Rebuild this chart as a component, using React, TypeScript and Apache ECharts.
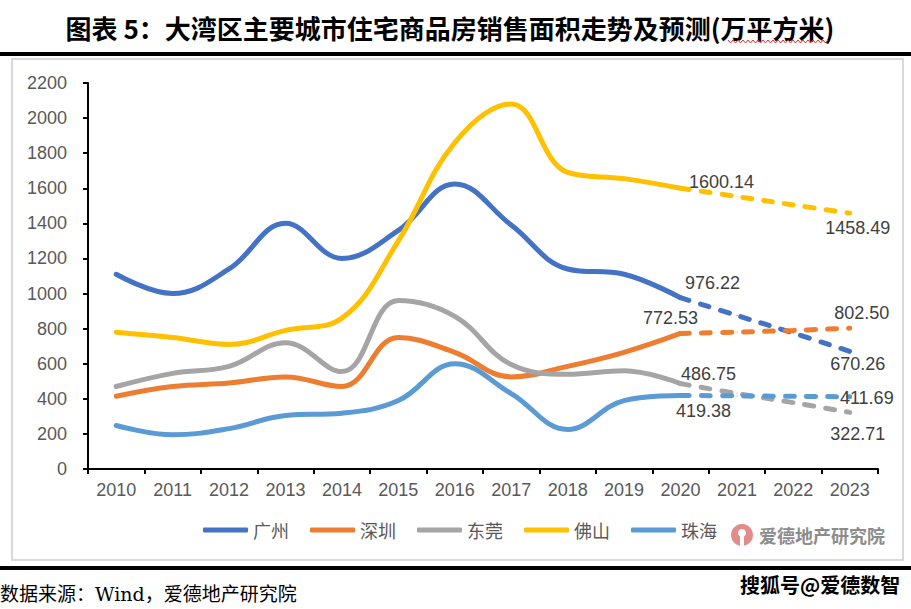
import React, { useEffect, useRef } from 'react';
import * as echarts from 'echarts';

const years = ['2010', '2011', '2012', '2013', '2014', '2015', '2016', '2017', '2018', '2019', '2020', '2021', '2022', '2023'];
const cities = ['广州', '深圳', '东莞', '佛山', '珠海'];

// Historical 2010-2020
const guangzhou = [1110, 1000, 1140, 1400, 1200, 1360, 1625, 1390, 1140, 1110, 976.22];
const shenzhen = [415, 470, 490, 525, 470, 750, 665, 525, 585, 665, 772.53];
const dongguan = [470, 545, 585, 720, 555, 960, 870, 595, 540, 560, 486.75];
const foshan = [780, 750, 710, 790, 860, 1300, 1860, 2080, 1690, 1655, 1600.14];
const zhuhai = [248, 195, 230, 305, 318, 390, 600, 430, 225, 390, 419.38];

// Forecast 2020-2023
const guangzhouForecast = [976.22, 875, 775, 670.26];
const shenzhenForecast = [772.53, 780, 790, 802.5];
const dongguanForecast = [486.75, 430, 378, 322.71];
const foshanForecast = [1600.14, 1553, 1505, 1458.49];
const zhuhaiForecast = [419.38, 417, 414, 411.69];

const colors = ['#4472C4', '#ED7D31', '#A5A5A5', '#FFC000', '#5B9BD5'];

export default function App() {
  const ref = useRef<HTMLDivElement>(null);

  useEffect(() => {
    const chart = echarts.init(ref.current!, null, { renderer: 'svg' });
    const hist = [guangzhou, shenzhen, dongguan, foshan, zhuhai];
    const fc = [guangzhouForecast, shenzhenForecast, dongguanForecast, foshanForecast, zhuhaiForecast];
    // label offsets [start(2020), end(2023)] relative to the point
    const offsets: number[][][] = [
      [[32, -15], [8, 13]],
      [[-10, -15], [12, -15]],
      [[28, -10], [8, 22]],
      [[41, -6], [8, 15]],
      [[23, 16], [17, 1]],
    ];
    const labelStyle = {
      fontSize: 18,
      color: '#404040',
      fontFamily: 'Liberation Sans, Arial, sans-serif',
      lineHeight: 18,
    };
    const series: any[] = [];
    cities.forEach((name, i) => {
      const solidData: (number | null)[] = [...hist[i]];
      while (solidData.length < years.length) solidData.push(null);
      series.push({
        name,
        type: 'line',
        data: solidData,
        smooth: 0.4,
        symbol: 'none',
        lineStyle: { color: colors[i], width: 5, cap: 'round' },
        itemStyle: { color: colors[i] },
        z: 3,
      });
      const startIdx = years.length - fc[i].length;
      const fcData: any[] = years.map((_, k) => {
        if (k < startIdx) return null;
        const v = fc[i][k - startIdx];
        if (k === startIdx || k === years.length - 1) {
          const off = k === startIdx ? offsets[i][0] : offsets[i][1];
          return {
            value: v,
            label: {
              show: true,
              position: 'inside',
              offset: off,
              formatter: v.toFixed(2),
              ...labelStyle,
            },
          };
        }
        return v;
      });
      series.push({
        name: name + '预测',
        type: 'line',
        data: fcData,
        smooth: 0.4,
        symbol: 'circle',
        symbolSize: 1,
        showSymbol: true,
        lineStyle: { color: colors[i], width: 5, type: [9, 12], cap: 'round' },
        itemStyle: { color: colors[i] },
        z: 4,
      });
    });

    const squiggle: number[][] = [];
    for (let x = 728, k = 0; x <= 830; x += 2.5, k++) {
      squiggle.push([x, k % 2 === 0 ? 40 : 43]);
    }

    chart.setOption({
      animation: false,
      backgroundColor: '#ffffff',
      color: colors,
      grid: { left: 88, right: 33, top: 83, bottom: 140, containLabel: false },
      xAxis: {
        type: 'category',
        data: years,
        boundaryGap: true,
        axisLine: { lineStyle: { color: '#000', width: 2 } },
        axisTick: { show: true, length: 5, lineStyle: { color: '#000', width: 2 } },
        axisLabel: {
          color: '#595959',
          fontSize: 18,
          margin: 12,
          fontFamily: 'Liberation Sans, Arial, sans-serif',
        },
        splitLine: { show: false },
      },
      yAxis: {
        type: 'value',
        min: 0,
        max: 2200,
        interval: 200,
        axisLine: { show: true, lineStyle: { color: '#000', width: 2 } },
        axisTick: { show: true, length: 5, lineStyle: { color: '#000', width: 2 } },
        axisLabel: {
          color: '#595959',
          fontSize: 18,
          margin: 21,
          fontFamily: 'Liberation Sans, Arial, sans-serif',
          formatter: (v: number) => String(v),
        },
        splitLine: { show: false },
      },
      legend: {
        data: cities.map((n) => ({ name: n, icon: 'roundRect' })),
        left: 198,
        top: 516,
        itemWidth: 45,
        itemHeight: 5,
        itemGap: 21,
        textStyle: {
          fontSize: 18,
          color: '#595959',
          fontFamily: 'Noto Sans CJK SC, sans-serif',
        },
      },
      graphic: [
        { type: 'rect', shape: { x: 0, y: 52, width: 911, height: 4 }, style: { fill: '#000' }, silent: true },
        { type: 'rect', shape: { x: 0, y: 566, width: 911, height: 4 }, style: { fill: '#000' }, silent: true },
        {
          type: 'rect',
          shape: { x: 12, y: 59, width: 891, height: 501 },
          style: { fill: 'none', stroke: '#D9D9D9', lineWidth: 2 },
          silent: true,
          z: -1,
        },
        {
          type: 'text',
          x: 450,
          y: 27,
          style: {
            text: '图表 5：大湾区主要城市住宅商品房销售面积走势及预测(万平方米)',
            fill: '#000',
            fontSize: 26,
            fontWeight: 'bold',
            fontFamily: 'Noto Sans CJK SC, serif',
            align: 'center',
            verticalAlign: 'middle',
          },
        },
        {
          type: 'polyline',
          shape: { points: squiggle },
          style: { stroke: '#E03030', lineWidth: 1, fill: 'none' },
          silent: true,
        },
        { type: 'circle', shape: { cx: 742, cy: 535, r: 11 }, style: { fill: '#E38B8B' }, silent: true },
        { type: 'circle', shape: { cx: 742, cy: 533, r: 4 }, style: { fill: '#fff' }, silent: true },
        { type: 'rect', shape: { x: 740, y: 535, width: 4, height: 12 }, style: { fill: '#fff' }, silent: true },
        {
          type: 'text',
          x: 759,
          y: 535,
          style: {
            text: '爱德地产研究院',
            fill: '#8C8C8C',
            fontSize: 18,
            fontWeight: 'bold',
            fontFamily: 'Noto Sans CJK SC, sans-serif',
            verticalAlign: 'middle',
          },
        },
        {
          type: 'text',
          x: 0,
          y: 594,
          style: {
            text: '数据来源：Wind，爱德地产研究院',
            fill: '#000',
            fontSize: 19,
            fontFamily: 'DejaVu Serif, Noto Sans CJK SC, serif',
            verticalAlign: 'middle',
          },
        },
        {
          type: 'text',
          x: 740,
          y: 584,
          style: {
            text: '搜狐号@爱德数智',
            fill: '#000',
            stroke: '#fff',
            lineWidth: 2,
            fontSize: 20,
            fontWeight: 'bold',
            fontFamily: 'Noto Sans CJK SC, sans-serif',
            verticalAlign: 'middle',
          },
        },
      ],
      series,
    });
    return () => chart.dispose();
  }, []);

  return (
    <div
      ref={ref}
      style={{ position: 'absolute', left: 0, top: 0, width: 911, height: 609, background: '#fff' }}
    />
  );
}
